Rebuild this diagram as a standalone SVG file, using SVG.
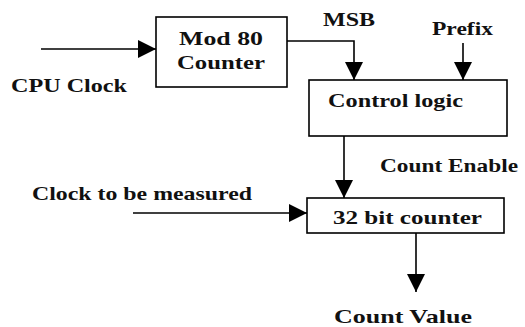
<svg xmlns="http://www.w3.org/2000/svg" width="525" height="327" viewBox="0 0 525 327">
<style>
.box{fill:#fff;stroke:#000;stroke-width:1.6}
.ln{fill:none;stroke:#000;stroke-width:1.6}
.t{font-family:'Liberation Serif','Times New Roman',Times,serif;font-weight:700;font-size:19px;fill:#111}
</style>
<defs>
<marker id="ah" markerUnits="userSpaceOnUse" markerWidth="20" markerHeight="20" refX="18" refY="9" orient="auto">
<path d="M0,0 L18,9 L0,18 Z" fill="#000"/>
</marker>
</defs>
<rect width="525" height="327" fill="#fff"/>
<g id="connectors">
<line class="ln" x1="41" y1="49" x2="156" y2="49" marker-end="url(#ah)"/>
<polyline class="ln" points="287,41 354,41 354,80" marker-end="url(#ah)"/>
<line class="ln" x1="463" y1="43" x2="463" y2="80" marker-end="url(#ah)"/>
<line class="ln" x1="344" y1="136" x2="344" y2="198" marker-end="url(#ah)"/>
<line class="ln" x1="133" y1="213" x2="307" y2="213" marker-end="url(#ah)"/>
<line class="ln" x1="416" y1="233" x2="416" y2="292" marker-end="url(#ah)"/>
</g>
<g id="mod80">
<rect class="box" x="156" y="17" width="131" height="70"/>
<text class="t" x="221" y="45" text-anchor="middle" textLength="84" lengthAdjust="spacingAndGlyphs">Mod 80</text>
<text class="t" x="221" y="69" text-anchor="middle" textLength="88" lengthAdjust="spacingAndGlyphs">Counter</text>
</g>
<g id="control">
<rect class="box" x="309" y="80" width="198" height="56"/>
<text class="t" x="328" y="107" textLength="135" lengthAdjust="spacingAndGlyphs">Control logic</text>
</g>
<g id="counter32">
<rect class="box" x="307" y="198" width="197" height="35"/>
<text class="t" x="333" y="224" textLength="149" lengthAdjust="spacingAndGlyphs">32 bit counter</text>
</g>
<g id="labels">
<text class="t" x="11" y="92" textLength="116" lengthAdjust="spacingAndGlyphs">CPU Clock</text>
<text class="t" x="323" y="26" textLength="52" lengthAdjust="spacingAndGlyphs">MSB</text>
<text class="t" x="432" y="35" textLength="61" lengthAdjust="spacingAndGlyphs">Prefix</text>
<text class="t" x="380" y="172" textLength="138" lengthAdjust="spacingAndGlyphs">Count Enable</text>
<text class="t" x="32" y="200" textLength="220" lengthAdjust="spacingAndGlyphs">Clock to be measured</text>
<text class="t" x="334" y="323" textLength="138" lengthAdjust="spacingAndGlyphs">Count Value</text>
</g>
</svg>
